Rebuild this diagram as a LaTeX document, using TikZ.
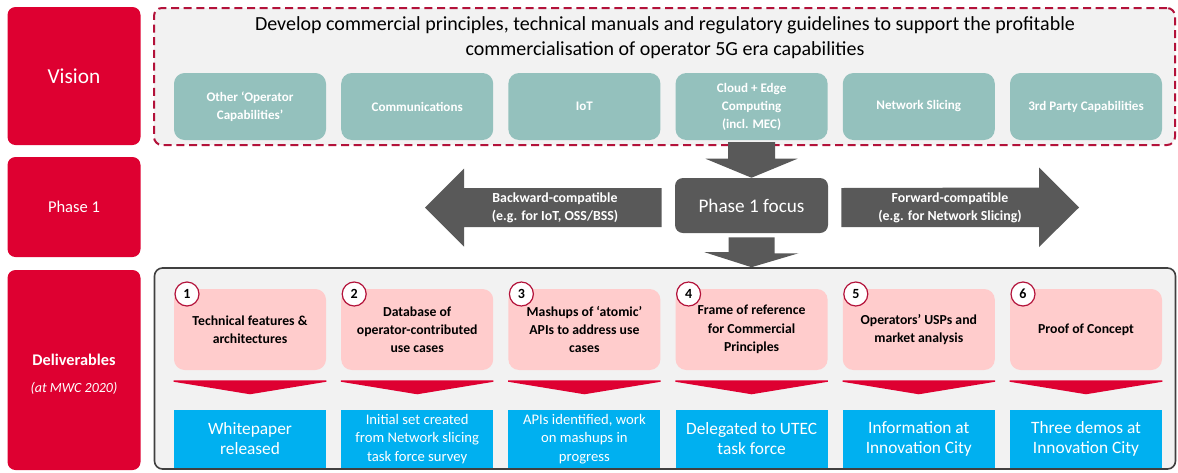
\documentclass[tikz,border=0pt]{standalone}
\usepackage{fontspec}
\setmainfont{Carlito}
\usepackage{xcolor}
\usepackage{tikz}
\usetikzlibrary{calc}
\definecolor{gsmared}{HTML}{DE0031}
\definecolor{dashred}{HTML}{B3123A}
\definecolor{capteal}{HTML}{94C1BD}
\definecolor{focusgray}{HTML}{595959}
\definecolor{panelgray}{HTML}{F2F2F2}
\definecolor{itempink}{HTML}{FFCCCC}
\definecolor{resultblue}{HTML}{00B0F0}
\definecolor{frameedge}{HTML}{404040}

\begin{document}
\begin{tikzpicture}[x=0.75pt,y=-0.75pt]
\tikzstyle{every node}+=[inner sep=0pt]
\tikzstyle{rowlabel}=[fill=gsmared,rounded corners=6pt,text=white,align=center,minimum width=133*0.75pt]
\tikzstyle{panel}=[fill=panelgray,rounded corners=6pt,minimum width=1021*0.75pt]
\tikzstyle{capbox}=[fill=capteal,rounded corners=8pt,text=white,align=center,minimum width=152*0.75pt,minimum height=67*0.75pt,font=\bfseries\fontsize{9.8}{13.5}\selectfont]
\tikzstyle{itembox}=[fill=itempink,rounded corners=8pt,align=center,minimum width=152*0.75pt,minimum height=81*0.75pt,font=\bfseries\fontsize{10.3}{13.7}\selectfont]
\tikzstyle{itemnum}=[circle,draw=dashred,line width=0.9pt,fill=white,minimum size=24*0.75pt,font=\bfseries\fontsize{10.5}{12}\selectfont]
\tikzstyle{resultbox}=[fill=resultblue,text=white,align=center,minimum width=152*0.75pt,minimum height=58*0.75pt,font=\fontsize{13}{15}\selectfont]
\tikzstyle{smallresult}=[font=\fontsize{11}{13.7}\selectfont]
\tikzstyle{blockarrow}=[fill=focusgray]
\tikzstyle{arrowtext}=[text=white,align=center,font=\bfseries\fontsize{10.4}{13.5}\selectfont]
\tikzstyle{chevron}=[fill=gsmared]
\useasboundingbox (0,0) rectangle (1178,472);
\draw (74,76) node[rowlabel,minimum height=138*0.75pt,font=\fontsize{16}{19}\selectfont] (vision) {Vision};
\draw (74,207) node[rowlabel,minimum height=100*0.75pt,font=\fontsize{12.4}{15}\selectfont] (phase) {Phase 1};
\draw (74,370) node[rowlabel,minimum height=200*0.75pt] (deliv) {};
\draw (74,360) node[text=white,font=\bfseries\fontsize{12.2}{15}\selectfont] (delivname) {Deliverables};
\draw (74,388) node[text=white,font=\itshape\fontsize{10.5}{13}\selectfont] (delivdate) {(at MWC 2020)};
\draw (664.5,76.5) node[panel,minimum height=137*0.75pt,draw=dashred,line width=1.5pt,dash pattern=on 6pt off 3.5pt] (visionpanel) {};
\draw (665,37.5) node[align=center,font=\fontsize{15}{18.75}\selectfont] (goal) {Develop commercial principles, technical manuals and regulatory guidelines to support the profitable\\commercialisation of operator 5G era capabilities};
\draw (250,106.5) node[capbox] (cap1) {Other ‘Operator\\Capabilities’};
\draw (417.2,106.5) node[capbox] (cap2) {Communications};
\draw (584.4,106.5) node[capbox] (cap3) {IoT};
\draw (751.6,106.5) node[capbox] (cap4) {Cloud + Edge\\Computing\\(incl. MEC)};
\draw (918.8,106.5) node[capbox] (cap5) {Network Slicing};
\draw (1086,106.5) node[capbox] (cap6) {3rd Party Capabilities};
\draw (665,368.5) node[panel,minimum height=201*0.75pt,draw=frameedge,line width=1.2pt] (delivpanel) {};
\draw (250,329.5) node[itembox] (item1) {Technical features \&\\architectures};
\draw (417.2,329.5) node[itembox] (item2) {Database of\\operator-contributed\\use cases};
\draw (584.4,329.5) node[itembox] (item3) {Mashups of ‘atomic’\\APIs to address use\\cases};
\draw (751.6,329.5) node[itembox] (item4) {Frame of reference\\for Commercial\\Principles};
\draw (918.8,329.5) node[itembox] (item5) {Operators’ USPs and\\market analysis};
\draw (1086,329.5) node[itembox] (item6) {Proof of Concept};
\draw (187,294) node[itemnum] (num1) {1};
\draw (354.2,294) node[itemnum] (num2) {2};
\draw (521.4,294) node[itemnum] (num3) {3};
\draw (688.6,294) node[itemnum] (num4) {4};
\draw (855.8,294) node[itemnum] (num5) {5};
\draw (1023,294) node[itemnum] (num6) {6};
\fill[chevron] ($(item1.south west)+(0,10)$) -- ($(item1.south east)+(0,10)$) -- ++(0,1.5) -- ($(item1.south)+(0,24)$) -- ($(item1.south west)+(0,11.5)$) -- cycle;
\fill[chevron] ($(item2.south west)+(0,10)$) -- ($(item2.south east)+(0,10)$) -- ++(0,1.5) -- ($(item2.south)+(0,24)$) -- ($(item2.south west)+(0,11.5)$) -- cycle;
\fill[chevron] ($(item3.south west)+(0,10)$) -- ($(item3.south east)+(0,10)$) -- ++(0,1.5) -- ($(item3.south)+(0,24)$) -- ($(item3.south west)+(0,11.5)$) -- cycle;
\fill[chevron] ($(item4.south west)+(0,10)$) -- ($(item4.south east)+(0,10)$) -- ++(0,1.5) -- ($(item4.south)+(0,24)$) -- ($(item4.south west)+(0,11.5)$) -- cycle;
\fill[chevron] ($(item5.south west)+(0,10)$) -- ($(item5.south east)+(0,10)$) -- ++(0,1.5) -- ($(item5.south)+(0,24)$) -- ($(item5.south west)+(0,11.5)$) -- cycle;
\fill[chevron] ($(item6.south west)+(0,10)$) -- ($(item6.south east)+(0,10)$) -- ++(0,1.5) -- ($(item6.south)+(0,24)$) -- ($(item6.south west)+(0,11.5)$) -- cycle;
\draw (250,439) node[resultbox] (res1) {Whitepaper\\released};
\draw (417.2,439) node[resultbox,smallresult] (res2) {Initial set created\\from Network slicing\\task force survey};
\draw (584.4,439) node[resultbox,smallresult] (res3) {APIs identified, work\\on mashups in\\progress};
\draw (751.6,439) node[resultbox] (res4) {Delegated to UTEC\\task force};
\draw (918.8,439) node[resultbox] (res5) {Information at\\Innovation City};
\draw (1086,439) node[resultbox] (res6) {Three demos at\\Innovation City};
\draw (751.5,205.5) node[fill=focusgray,rounded corners=6pt,minimum width=153*0.75pt,minimum height=55*0.75pt,text=white,font=\fontsize{14.4}{17}\selectfont] (focus) {Phase 1 focus};
\coordinate (backtip) at (425,207.5);
\coordinate (fwdtip) at (1079,207.5);
\fill[blockarrow] (focus.north) -- ++(-46,-19) -- ++(22.5,0) -- ($(focus.north |- visionpanel.south)+(-23.5,-4)$) -- ++(47,0) -- ($(focus.north)+(23.5,-19)$) -- ++(22.5,0) -- cycle;
\fill[blockarrow] ($(focus.south)+(-23,4)$) -- ++(46,0) -- ++(0,16) -- ++(24,0) -- (focus.south |- delivpanel.north) -- ++(-47,-15) -- ++(24,0) -- cycle;
\fill[blockarrow] ($(focus.west)+(-13,-17.5)$) -- ++(0,39) -- ($(backtip)+(39,19.5)$) -- ++(0,19.5) -- (backtip) -- ++(39,-39) -- ++(0,19.5) -- cycle;
\fill[blockarrow] ($(focus.east)+(13,-17.5)$) -- ++(0,39) -- ($(fwdtip)+(-40,19.5)$) -- ++(0,20) -- (fwdtip) -- ++(-40,-40) -- ++(0,20) -- cycle;
\draw (555,208) node[arrowtext] (backtext) {Backward-compatible\\(e.g. for IoT, OSS/BSS)};
\draw (950,208) node[arrowtext] (fwdtext) {Forward-compatible\\(e.g. for Network Slicing)};
\end{tikzpicture}
\end{document}
